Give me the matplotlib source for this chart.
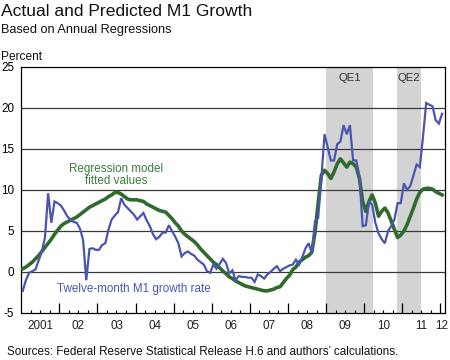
import numpy as np
import matplotlib
matplotlib.use("Agg")
import matplotlib.pyplot as plt
from matplotlib.ticker import FixedLocator, NullFormatter

plt.rcParams['font.family'] = ['Liberation Sans', 'DejaVu Sans']

# Monthly data, Jan 2001 .. Jan 2012 (plotted at mid-month)
start_year = 2001
actual_m1 = [
    # 2001
    -2.3, -1.0, -0.1, 0.1, 0.3, 1.4, 2.5, 4.2, 9.6, 6.0, 8.6, 8.4,
    # 2002
    8.1, 7.5, 6.8, 6.4, 6.1, 6.0, 5.3, 3.9, -1.0, 2.8, 2.9, 2.7,
    # 2003
    2.7, 3.3, 3.5, 5.2, 6.4, 6.9, 7.3, 9.0, 8.2, 7.8, 7.4, 7.0,
    # 2004
    6.4, 6.8, 7.2, 6.3, 5.6, 4.6, 4.0, 4.3, 4.8, 4.8, 5.7, 5.0,
    # 2005
    4.3, 3.5, 1.9, 2.3, 2.5, 2.2, 2.0, 1.5, 1.2, 0.9, 0.1, -0.1,
    # 2006
    0.9, 0.4, 1.0, 1.6, 1.1, -0.2, 0.2, -1.0, -0.5, -0.6, -0.6, -0.7,
    # 2007
    -0.7, -1.2, -0.3, -0.5, -0.8, -0.3, 0.0, 0.4, 0.7, 0.1, 0.4, 0.6,
    # 2008
    0.8, 0.9, 1.5, 0.9, 1.8, 2.9, 3.5, 2.3, 6.2, 6.6, 11.4, 16.8,
    # 2009
    15.2, 13.6, 13.6, 15.6, 15.9, 17.9, 16.8, 17.9, 13.6, 13.6, 11.6, 5.6,
    # 2010
    5.7, 8.6, 8.2, 6.0, 4.7, 4.0, 3.5, 5.0, 5.6, 6.4, 8.4, 8.4,
    # 2011
    10.8, 10.0, 10.5, 11.8, 13.1, 12.8, 16.5, 20.6, 20.4, 20.2, 18.5, 18.1,
    # 2012
    19.3,
]
fitted_m1 = [
    # 2001
    0.4, 0.6, 0.9, 1.2, 1.6, 2.0, 2.5, 3.0, 3.5, 4.0, 4.6, 5.1,
    # 2002
    5.6, 5.9, 6.1, 6.3, 6.5, 6.7, 7.0, 7.3, 7.6, 7.9, 8.1, 8.3,
    # 2003
    8.5, 8.7, 8.9, 9.2, 9.4, 9.7, 9.7, 9.5, 9.2, 8.9, 8.8, 8.8,
    # 2004
    8.8, 8.7, 8.6, 8.3, 8.1, 7.9, 7.7, 7.5, 7.4, 7.3, 6.9, 6.5,
    # 2005
    6.0, 5.6, 5.0, 4.6, 4.3, 4.0, 3.7, 3.3, 2.8, 2.4, 2.0, 1.6,
    # 2006
    1.2, 0.9, 0.5, 0.1, -0.2, -0.6, -0.8, -1.1, -1.3, -1.5, -1.7, -1.8,
    # 2007
    -1.9, -2.0, -2.1, -2.2, -2.3, -2.3, -2.2, -2.1, -1.9, -1.8, -1.3, -0.8,
    # 2008
    -0.4, 0.3, 0.6, 1.2, 1.5, 1.8, 2.0, 2.4, 4.8, 8.4, 11.8, 12.4,
    # 2009
    12.0, 11.4, 12.2, 13.2, 13.8, 13.3, 12.8, 13.4, 13.2, 12.8, 11.4, 8.6,
    # 2010
    7.4, 8.6, 9.4, 8.4, 6.8, 7.4, 7.8, 7.2, 6.2, 5.2, 4.2, 4.5,
    # 2011
    5.0, 5.8, 6.8, 7.8, 8.9, 9.7, 10.1, 10.2, 10.2, 10.1, 9.8, 9.6,
    # 2012
    9.4,
]
year_labels = ["2001", "02", "03", "04", "05", "06", "07", "08", "09", "10", "11", "12"]
y_ticks = [-5, 0, 5, 10, 15, 20, 25]
qe_labels = ["QE1", "QE2"]
qe_periods = [(2008.99, 2010.24), (2010.86, 2011.48)]

n = len(actual_m1)
dates = start_year + (np.arange(n) + 0.5) / 12.0

BLUE = "#4a55b3"
GREEN = "#2f6a2f"
SHADE = "#d3d3d3"

fig = plt.figure(figsize=(4.5, 3.6), dpi=100)
ax = fig.add_axes([0.047, 0.1306, 0.942, 0.6833])

for (a, b), lab in zip(qe_periods, qe_labels):
    ax.axvspan(a, b, color=SHADE, lw=0, zorder=0)
    ax.text((a + b) / 2, 23.7, lab, ha="center", va="center", fontsize=8.2,
            color="#333333", zorder=5)

for yv in y_ticks[1:-1]:
    ax.axhline(yv, color="#3a3a3a", lw=0.9, zorder=1)

ax.plot(dates, fitted_m1, color=GREEN, lw=2.6, zorder=3, solid_joinstyle="round")
ax.plot(dates, actual_m1, color=BLUE, lw=1.6, zorder=4, solid_joinstyle="miter")

ax.set_xlim(2001.0, 2012.12)
ax.set_ylim(-5, 25)
ax.set_yticks(y_ticks)
ax.set_yticklabels([str(v) for v in y_ticks])
ax.tick_params(axis="y", length=0, pad=5, labelsize=8.4)

major = list(range(2002, 2013))
minor = [y + q / 4 for y in range(2001, 2012) for q in (1, 2, 3)]
ax.xaxis.set_major_locator(FixedLocator(major))
ax.xaxis.set_minor_locator(FixedLocator(minor))
ax.xaxis.set_major_formatter(NullFormatter())
ax.tick_params(axis="x", which="major", direction="in", length=7, width=0.9, color="black")
ax.tick_params(axis="x", which="minor", direction="in", length=2.5, width=0.8, color="black")

label_pos = [y + 0.5 for y in range(2001, 2012)] + [2012.04]
for xp, lab in zip(label_pos, year_labels):
    ax.text(xp, -5.9, lab, ha="center", va="top", fontsize=8.4, color="#222222")

for s in ax.spines.values():
    s.set_color("black")
    s.set_linewidth(0.9)

ax.text(2003.5, 11.85, "Regression model\nfitted values", ha="center", va="center",
        fontsize=8.4, color="#3b7d3b", linespacing=1.05, zorder=6)
ax.text(2003.97, -2.1, "Twelve-month M1 growth rate", ha="center", va="center",
        fontsize=8.4, color=BLUE, zorder=6)

fig.text(0.003, 1 - 15.5 / 360, "Actual and Predicted M1 Growth", fontsize=12.6,
         va="baseline", ha="left", color="#111111")
fig.text(0.003, 1 - 33.5 / 360, "Based on Annual Regressions", fontsize=9.2,
         va="baseline", ha="left", color="#111111")
fig.text(0.003, 1 - 60 / 360, "Percent", fontsize=8.6, va="baseline", ha="left",
         color="#111111")
fig.text(0.016, 1 - 355 / 360, "Sources: Federal Reserve Statistical Release H.6 and authors\u2019 calculations.",
         fontsize=8.4, va="baseline", ha="left", color="#111111")

fig.savefig("out.png", dpi=100)
